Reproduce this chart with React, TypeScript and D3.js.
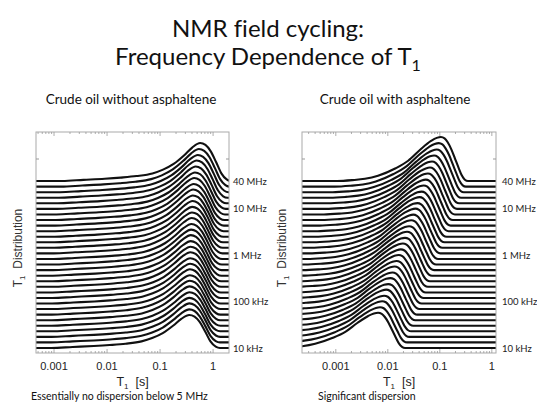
import React, { useEffect, useRef } from "react";
import * as d3 from "d3";

// field-cycling Larmor frequencies in Hz, bottom trace to top trace
const frequencies = [
  1.0e4, 1.32e4, 1.74e4, 2.29e4, 3.02e4, 3.98e4, 5.25e4, 6.92e4, 9.12e4, 1.2e5,
  1.58e5, 2.09e5, 2.75e5, 3.63e5, 4.79e5, 6.31e5, 8.32e5, 1.1e6, 1.45e6, 1.91e6,
  2.51e6, 3.31e6, 4.37e6, 5.75e6, 7.59e6, 1.0e7, 1.32e7, 1.74e7, 2.29e7, 3.02e7, 4.0e7,
];

const freqTicks = [4e7, 1e7, 1e6, 1e5, 1e4];
const freqTickLabels = ["40 MHz", "10 MHz", "1 MHz", "100 kHz", "10 kHz"];
const t1Ticks = [0.001, 0.01, 0.1, 1];
const t1TickLabels = ["0.001", "0.01", "0.1", "1"];

// crude oil without asphaltene: peak T1 (s) and relative peak height per frequency
const peakT1Plain = [
  0.355, 0.355, 0.357, 0.357, 0.36, 0.36, 0.362, 0.365, 0.365, 0.368,
  0.37, 0.372, 0.375, 0.378, 0.38, 0.385, 0.39, 0.395, 0.4, 0.405,
  0.41, 0.415, 0.42, 0.43, 0.44, 0.455, 0.47, 0.49, 0.515, 0.54, 0.57,
];
const peakHPlain = [
  0.87, 0.87, 0.88, 0.88, 0.88, 0.89, 0.89, 0.89, 0.9, 0.9,
  0.9, 0.91, 0.91, 0.91, 0.92, 0.92, 0.92, 0.93, 0.93, 0.93,
  0.94, 0.94, 0.95, 0.95, 0.96, 0.96, 0.97, 0.98, 0.98, 0.99, 1.0,
];
// distribution profile: decades from the peak, relative height
const shapeDecPlain = [-2.6, -2.2, -1.8, -1.5, -1.2, -0.9, -0.7, -0.5, -0.3, -0.15, 0, 0.1, 0.2, 0.3, 0.4, 0.5, 0.58];
const shapeValPlain = [0, 0.03, 0.06, 0.09, 0.13, 0.2, 0.3, 0.45, 0.68, 0.88, 1, 0.95, 0.78, 0.5, 0.2, 0.04, 0];

// crude oil with asphaltene
const peakT1Asph = [
  0.0065, 0.0071, 0.0078, 0.0085, 0.0093, 0.0102, 0.0112, 0.0123, 0.0135, 0.0148,
  0.0162, 0.0178, 0.0195, 0.0214, 0.0234, 0.0257, 0.0282, 0.0309, 0.0339, 0.0372,
  0.0407, 0.0447, 0.049, 0.0537, 0.0589, 0.0646, 0.0708, 0.0776, 0.0871, 0.0955, 0.105,
];
const peakHAsph = [
  0.8, 0.8, 0.81, 0.81, 0.82, 0.82, 0.83, 0.83, 0.84, 0.84,
  0.85, 0.85, 0.86, 0.86, 0.87, 0.87, 0.88, 0.88, 0.89, 0.89,
  0.9, 0.9, 0.91, 0.92, 0.93, 0.94, 0.95, 0.96, 0.97, 0.99, 1.0,
];
const shapeDecAsph = [-2.0, -1.7, -1.46, -1.21, -0.87, -0.63, -0.4, -0.19, -0.08, 0, 0.07, 0.13, 0.2, 0.27, 0.34, 0.4, 0.46, 0.52];
const shapeValAsph = [0, 0.02, 0.05, 0.12, 0.29, 0.46, 0.71, 0.91, 0.98, 1, 0.97, 0.88, 0.72, 0.51, 0.3, 0.13, 0.03, 0];

const W = 537;
const H = 407;
const slideFont = "Lato, 'Open Sans', sans-serif";
const plotFont = "'Liberation Sans', Arial, sans-serif";

function drawPanel(svg: any, p: any) {
  const x = d3.scaleLog().domain([p.t1Min, p.t1Max]).range([p.left, p.right]);
  const base = d3.scaleLog().domain([1e4, 4e7]).range([348, 181]);
  const amp = d3.scaleLinear().domain([0, 1]).range([0, p.ampPx]);
  const top = 132, bottom = 353;

  const g = svg.append("g");
  g.append("clipPath").attr("id", p.id).append("rect")
    .attr("x", p.left).attr("y", 0).attr("width", p.right - p.left).attr("height", H);
  const traces = g.append("g").attr("clip-path", `url(#${p.id})`);

  // back (high field) first, so lower traces hide what is behind them
  for (let i = frequencies.length - 1; i >= 0; i--) {
    const b = base(frequencies[i]);
    const pts = [[p.t1Min / 10, 0]]
      .concat(p.shapeDec.map((o: number, k: number) => [p.peaks[i] * Math.pow(10, o), p.heights[i] * p.shapeVal[k]]))
      .concat([[p.t1Max * 10, 0]]);
    const area = d3.area<number[]>().x(d => x(d[0])).y0(b).y1(d => b - amp(d[1])).curve(d3.curveMonotoneX);
    const line = d3.line<number[]>().x(d => x(d[0])).y(d => b - amp(d[1])).curve(d3.curveMonotoneX);
    traces.append("path").attr("d", area(pts)).attr("fill", "#fff");
    traces.append("path").attr("d", line(pts)).attr("fill", "none")
      .attr("stroke", "#111").attr("stroke-width", 2.1).attr("stroke-linejoin", "round");
  }

  // frame
  g.append("rect").attr("x", p.left).attr("y", top).attr("width", p.right - p.left).attr("height", bottom - top)
    .attr("fill", "none").attr("stroke", "#aaa").attr("stroke-width", 1);

  // log ticks along top and bottom
  for (let d = -4; d <= 1; d++) {
    for (let k = 1; k <= 9; k++) {
      const t = k * Math.pow(10, d);
      if (t < p.t1Min || t > p.t1Max) continue;
      const len = k === 1 ? 4 : 2;
      g.append("line").attr("x1", x(t)).attr("x2", x(t)).attr("y1", bottom).attr("y2", bottom - len)
        .attr("stroke", "#999").attr("stroke-width", 0.8);
      g.append("line").attr("x1", x(t)).attr("x2", x(t)).attr("y1", top).attr("y2", top + len)
        .attr("stroke", "#999").attr("stroke-width", 0.8);
    }
  }
  g.append("line").attr("x1", p.left).attr("x2", p.left + 3).attr("y1", 159).attr("y2", 159).attr("stroke", "#999");
  g.append("line").attr("x1", p.right).attr("x2", p.right - 3).attr("y1", 159).attr("y2", 159).attr("stroke", "#999");

  // T1 tick labels
  g.selectAll(".tl").data(t1Ticks).enter().append("text")
    .attr("x", (t: number) => x(t)).attr("y", 370).attr("text-anchor", "middle")
    .attr("font-family", plotFont).attr("font-size", 11).attr("fill", "#222")
    .text((t: number, i: number) => t1TickLabels[i]);

  // x title
  const xt = g.append("text").attr("x", (p.left + p.right) / 2).attr("y", 386).attr("text-anchor", "middle")
    .attr("font-family", plotFont).attr("font-size", 12.5).attr("fill", "#222");
  xt.append("tspan").text("T");
  xt.append("tspan").attr("dy", 3).attr("font-size", 8).text("1");
  xt.append("tspan").attr("dy", -3).text("\u00a0\u00a0[s]");

  // y title
  const yt = g.append("text").attr("transform", `translate(${p.yLabelX},248) rotate(-90)`).attr("text-anchor", "middle")
    .attr("font-family", plotFont).attr("font-size", 12).attr("fill", "#333");
  yt.append("tspan").text("T");
  yt.append("tspan").attr("dy", 3).attr("font-size", 8).text("1");
  yt.append("tspan").attr("dy", -3).text("\u00a0\u00a0Distribution");

  // frequency labels
  g.selectAll(".fl").data(freqTicks).enter().append("text")
    .attr("x", p.freqLabelX).attr("y", (f: number) => base(f) + 3.5)
    .attr("font-family", slideFont).attr("font-size", 9.5).attr("fill", "#222")
    .text((f: number, i: number) => freqTickLabels[i]);
}

export default function App() {
  const ref = useRef<SVGSVGElement>(null);

  useEffect(() => {
    const svg = d3.select(ref.current);
    svg.selectAll("*").remove();

    const title = svg.append("text").attr("text-anchor", "middle").attr("font-family", slideFont)
      .attr("font-size", 24).attr("fill", "#111").style("font-variant-ligatures", "none");
    title.append("tspan").attr("x", 268).attr("y", 37).text("NMR field cycling:");
    const l2 = title.append("tspan").attr("x", 268).attr("y", 65);
    l2.append("tspan").text("Frequency Dependence of T");
    l2.append("tspan").attr("dy", 6).attr("font-size", 16).text("1");

    svg.append("text").attr("x", 131).attr("y", 104).attr("text-anchor", "middle")
      .attr("font-family", slideFont).attr("font-size", 13.5).attr("fill", "#111").text("Crude oil without asphaltene");
    svg.append("text").attr("x", 395).attr("y", 104).attr("text-anchor", "middle")
      .attr("font-family", slideFont).attr("font-size", 13.5).attr("fill", "#111").text("Crude oil with asphaltene");

    drawPanel(svg, {
      id: "clipPlain", left: 36, right: 229, t1Min: Math.pow(10, -3.34), t1Max: Math.pow(10, 0.3),
      peaks: peakT1Plain, heights: peakHPlain, shapeDec: shapeDecPlain, shapeVal: shapeValPlain,
      ampPx: 38, yLabelX: 22, freqLabelX: 233,
    });
    drawPanel(svg, {
      id: "clipAsph", left: 302, right: 496, t1Min: Math.pow(10, -3.65), t1Max: Math.pow(10, 0.08),
      peaks: peakT1Asph, heights: peakHAsph, shapeDec: shapeDecAsph, shapeVal: shapeValAsph,
      ampPx: 44, yLabelX: 286, freqLabelX: 502,
    });

    svg.append("text").attr("x", 31).attr("y", 400).attr("font-family", slideFont).attr("font-size", 10.5)
      .attr("fill", "#111").text("Essentially no dispersion below 5 MHz");
    svg.append("text").attr("x", 318).attr("y", 400).attr("font-family", slideFont).attr("font-size", 10.5)
      .attr("fill", "#111").text("Significant dispersion");
  }, []);

  return (
    <svg ref={ref} width={W} height={H} style={{ position: "absolute", left: 0, top: 0, background: "#fff" }} />
  );
}
